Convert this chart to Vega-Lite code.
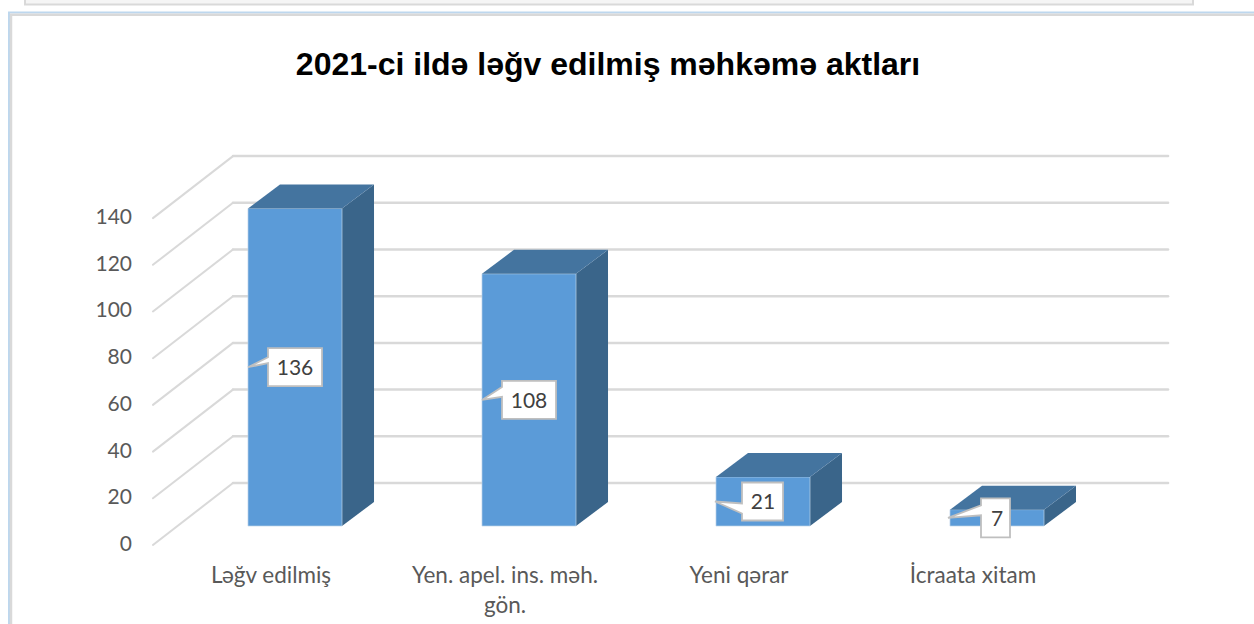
{
"$schema":"https://vega.github.io/schema/vega-lite/v6.json",
"width":1254,"height":624,"padding":0,"autosize":{"type":"none"},
"background":"#ffffff",
"view":{"stroke":null},
"title":{"text":"2021-ci ildə ləğv edilmiş məhkəmə aktları","anchor":"middle","dx":-19,"offset":-128,"baseline":"alphabetic","font":"Liberation Sans","fontSize":32,"fontWeight":"bold","color":"#000000"},
"datasets":{
"bars":[{"kateqoriya":"Ləğv edilmiş","say":136},{"kateqoriya":"Yen. apel. ins. məh.\ngön.","say":108},{"kateqoriya":"Yeni qərar","say":21},{"kateqoriya":"İcraata xitam","say":7}],
"ticks":[{"tick":0},{"tick":20},{"tick":40},{"tick":60},{"tick":80},{"tick":100},{"tick":120},{"tick":140}],
"panel":[{"part":"panel"}]
},
"data":{"name":"bars"},
"transform":[
{"window":[{"op":"row_number","as":"n"}]},
{"calculate":"datum.n-1","as":"u"},
{"calculate":"datum.u-0.2009","as":"xl"},
{"calculate":"datum.u+0.2009","as":"xr"},
{"calculate":"datum.say/2","as":"mid"},
{"calculate":"datum.u-0.1026","as":"lx"}
],
"layer":[
{"data":{"name":"panel"},"mark":{"type":"rect","fill":"#f5f5f5","stroke":"#d9d9d9","strokeWidth":2},
"encoding":{"x":{"datum":-1.1538,"type":"quantitative","scale":{"domain":[-1.26068,4.09829],"nice":false,"zero":false},"axis":null},"x2":{"datum":3.8376},
"y":{"datum":233.8,"type":"quantitative","scale":{"domain":[-41.97,225.27],"nice":false,"zero":false},"axis":null},"y2":{"datum":223.3}}},
{"data":{"name":"panel"},"mark":{"type":"rect","fill":"transparent","stroke":"#bdd7ee","strokeWidth":2},
"encoding":{"x":{"datum":-1.2222,"type":"quantitative","axis":null},"x2":{"datum":4.295},"y":{"datum":219.9,"type":"quantitative","axis":null},"y2":{"datum":-74.5}}},
{"data":{"name":"panel"},"mark":{"type":"rect","fill":"transparent","stroke":"#d9d9d9","strokeWidth":2.5},
"encoding":{"x":{"datum":-1.2137,"type":"quantitative","axis":null},"x2":{"datum":4.295},"y":{"datum":219,"type":"quantitative","axis":null},"y2":{"datum":-74.5}}},
{"data":{"name":"ticks"},"transform":[{"calculate":"datum.tick+18.415","as":"back"}],"mark":{"type":"rule","stroke":"#d9d9d9","strokeWidth":2.5,"strokeCap":"round"},
"encoding":{"x":{"datum":-0.265,"type":"quantitative","axis":null},"x2":{"datum":3.731},"y":{"field":"back","type":"quantitative","axis":null}}},
{"data":{"name":"ticks"},"transform":[{"calculate":"datum.tick+18.415","as":"back"},{"calculate":"datum.tick-8.137","as":"front"}],"mark":{"type":"rule","stroke":"#d9d9d9","strokeWidth":2,"strokeCap":"round"},
"encoding":{"x":{"datum":-0.265,"type":"quantitative","axis":null},"x2":{"datum":-0.607},"y":{"field":"back","type":"quantitative","axis":null},"y2":{"field":"front"}}},
{"data":{"name":"ticks"},"transform":[{"calculate":"datum.tick-8.1","as":"labely"}],"mark":{"type":"text","font":"Lato","fontSize":21,"color":"#595959","align":"right","baseline":"middle"},
"encoding":{"x":{"datum":-0.6966,"type":"quantitative","axis":null},"y":{"field":"labely","type":"quantitative","axis":null},"text":{"field":"tick","type":"nominal"}}},
{"transform":[{"calculate":"[0,1]","as":"d"},{"flatten":["d"]},{"calculate":"datum.xr+datum.d*0.1368","as":"sx"},{"calculate":"datum.say+datum.d*10.28","as":"stop"},{"calculate":"datum.d*10.28","as":"sbot"}],
"mark":{"type":"area","fill":"#3a658a","orient":"vertical","opacity":1},
"encoding":{"x":{"field":"sx","type":"quantitative","axis":null},"y":{"field":"stop","type":"quantitative","axis":null},"y2":{"field":"sbot"},"detail":{"field":"kateqoriya"}}},
{"mark":{"type":"rect","fill":"#5b9bd8","stroke":"#bcd2e6","strokeWidth":0.7},
"encoding":{"x":{"field":"xl","type":"quantitative","axis":null},"x2":{"field":"xr"},"y":{"field":"say","type":"quantitative","axis":null},"y2":{"datum":0}}},
{"mark":{"type":"point","shape":"M-47,0L-15,-24L79,-24L47,0Z","size":4,"filled":true,"fill":"#44749f","opacity":1,"strokeWidth":0},
"encoding":{"x":{"field":"u","type":"quantitative","axis":null},"y":{"field":"say","type":"quantitative","axis":null}}},
{"mark":{"type":"point","size":4,"filled":true,"fill":"#ffffff","stroke":"#bfbfbf","strokeWidth":1.8,"opacity":1},
"encoding":{"x":{"field":"u","type":"quantitative","axis":null},"y":{"field":"mid","type":"quantitative","axis":null},
"shape":{"field":"kateqoriya","type":"nominal","legend":null,"scale":{"domain":["Ləğv edilmiş","Yen. apel. ins. məh.\ngön.","Yeni qərar","İcraata xitam"],"range":["M-27,-19L27,-19L27,19L-27,19L-27,-4L-47,0L-27,-10Z","M-27,-19L27,-19L27,19L-27,19L-27,-3L-47,0L-27,-13Z","M-21,-19L20,-19L20,19L-21,19L-21,12L-48,0L-21,2Z","M-16,-19.5L13,-19.5L13,19.5L-16,19.5L-16,-2.5L-49,0L-16,-12.5Z"]}}}},
{"mark":{"type":"text","font":"Lato","fontSize":21,"color":"#404040","align":"center","baseline":"middle","dy":2},
"encoding":{"x":{"field":"u","type":"quantitative","axis":null},"y":{"field":"mid","type":"quantitative","axis":null},"text":{"field":"say","type":"nominal"}}},
{"mark":{"type":"text","font":"Lato","fontSize":22.5,"color":"#595959","align":"center","baseline":"alphabetic","lineBreak":"\n","lineHeight":30},
"encoding":{"x":{"field":"lx","type":"quantitative","axis":null},"y":{"datum":-24.5,"type":"quantitative","axis":null},"text":{"field":"kateqoriya","type":"nominal"}}}
]
}
